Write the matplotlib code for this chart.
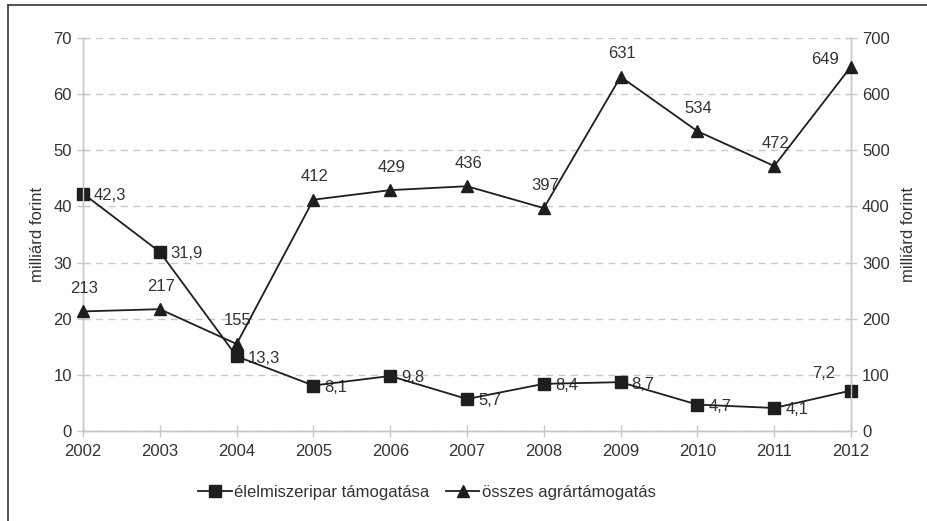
import matplotlib
matplotlib.use('Agg')
import matplotlib.pyplot as plt
from matplotlib.lines import Line2D

# --- Data ---
years = [2002, 2003, 2004, 2005, 2006, 2007, 2008, 2009, 2010, 2011, 2012]
elelmiszer = [42.3, 31.9, 13.3, 8.1, 9.8, 5.7, 8.4, 8.7, 4.7, 4.1, 7.2]
agrar = [213, 217, 155, 412, 429, 436, 397, 631, 534, 472, 649]
left_ticks = [0, 10, 20, 30, 40, 50, 60, 70]
right_ticks = [0, 100, 200, 300, 400, 500, 600, 700]
label_elelmiszer = 'élelmiszeripar támogatása'
label_agrar = 'összes agrártámogatás'
y_title = 'milliárd forint'

plt.rcParams['font.family'] = ['Liberation Sans', 'DejaVu Sans']
plt.rcParams['font.size'] = 12

TXT = '#333333'
LINE = '#1e1e1e'
AXC = '#c8c8c8'
FS = 12

fig = plt.figure(figsize=(9.27, 5.21), dpi=100)
ax = fig.add_axes([83 / 927, 1 - 431 / 521, (851 - 83) / 927, (431 - 38) / 521])
ax2 = ax.twinx()

# square series on left axis
ax.plot(years, elelmiszer, color=LINE, lw=1.3, marker='s', ms=8,
        markerfacecolor=LINE, markeredgecolor=LINE, clip_on=False, zorder=5)
# triangle series on right axis
ax2.plot(years, agrar, color=LINE, lw=1.3, marker='^', ms=9,
         markerfacecolor=LINE, markeredgecolor=LINE, clip_on=False, zorder=5)

ax.set_xlim(2002, 2012)
ax.set_ylim(0, 70)
ax2.set_ylim(0, 700)
ax.set_xticks(years)
ax.set_yticks(left_ticks)
ax2.set_yticks(right_ticks)

ax.grid(axis='y', color=AXC, linestyle=(0, (5, 4)), lw=1)
ax.set_axisbelow(True)

for a in (ax, ax2):
    a.spines['top'].set_visible(False)
    for s in ('left', 'right', 'bottom'):
        a.spines[s].set_color(AXC)
        a.spines[s].set_linewidth(1)
    a.tick_params(axis='both', colors=AXC, labelcolor=TXT, labelsize=FS,
                  direction='inout', length=8, width=1)
ax.tick_params(axis='x', pad=5)
ax.tick_params(axis='y', pad=4)
ax2.tick_params(axis='y', pad=4)

ax.set_ylabel(y_title, color=TXT, fontsize=FS, labelpad=6)
ax2.set_ylabel(y_title, color=TXT, fontsize=FS, labelpad=8, rotation=90)

# data labels
for x, v in zip(years, elelmiszer):
    s = f'{v:.1f}'.replace('.', ',')
    if x == 2012:
        ax.annotate(s, (x, v), xytext=(-16, 10), textcoords='offset pixels',
                    ha='right', va='bottom', color=TXT, fontsize=FS)
    else:
        ax.annotate(s, (x, v), xytext=(11, -2), textcoords='offset pixels',
                    ha='left', va='center', color=TXT, fontsize=FS)

for x, v in zip(years, agrar):
    if x == 2012:
        ax2.annotate(str(v), (x, v), xytext=(-26, 7), textcoords='offset pixels',
                     ha='center', va='center', color=TXT, fontsize=FS)
    else:
        ax2.annotate(str(v), (x, v), xytext=(1, 23), textcoords='offset pixels',
                     ha='center', va='center', color=TXT, fontsize=FS)

# legend below the plot
handles = [
    Line2D([], [], color=LINE, lw=1.3, marker='s', ms=8),
    Line2D([], [], color=LINE, lw=1.3, marker='^', ms=9),
]
leg = fig.legend(handles, [label_elelmiszer, label_agrar], loc='center',
                 bbox_to_anchor=(427 / 927, 1 - 492 / 521), ncol=2, frameon=False,
                 handlelength=2.0, handletextpad=0.15, columnspacing=1.0, fontsize=FS)
for t in leg.get_texts():
    t.set_color(TXT)

# frame lines (top and left)
fig.add_artist(Line2D([8 / 927, 1], [1 - 5 / 521, 1 - 5 / 521],
                      transform=fig.transFigure, color='#444444', lw=1.3))
fig.add_artist(Line2D([8 / 927, 8 / 927], [0, 1 - 5 / 521],
                      transform=fig.transFigure, color='#444444', lw=1.3))

fig.savefig('out.png', dpi=100)
